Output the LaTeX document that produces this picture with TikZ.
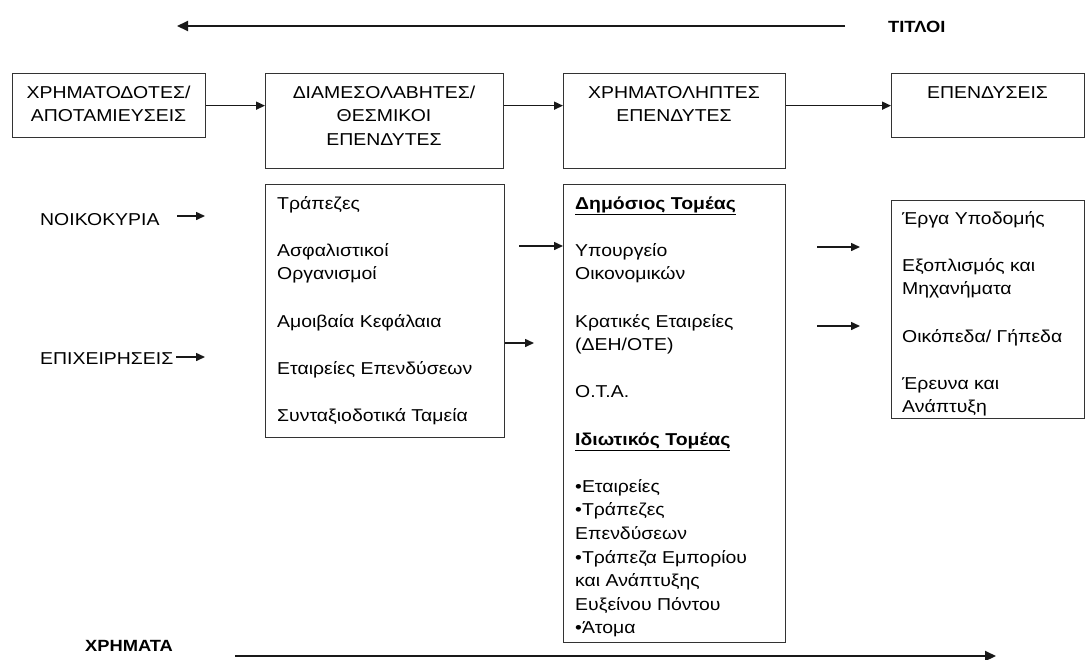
\documentclass[tikz,border=0pt]{standalone}
\usepackage{fontspec}
\setmainfont[FakeStretch=1.13]{Liberation Sans}
\usetikzlibrary{arrows.meta}
\begin{document}
\begin{tikzpicture}[x=1pt,y=-1pt,
  box/.style={draw=black!80,line width=1.3pt,inner sep=0pt,anchor=north west},
  txt/.style={inner sep=0pt,text=black,font=\fontsize{17.2}{23.6}\selectfont},
  ttl/.style={inner sep=0pt,text=black,font=\fontsize{16.2}{23.6}\selectfont\bfseries},
  big/.style={-{Triangle[length=11pt,width=10pt]},line width=2pt,draw=black!90},
  arr/.style={-{Triangle[length=9pt,width=8pt]},line width=1.5pt,draw=black!90}]
\useasboundingbox (0,0) rectangle (1086,659);

% header boxes
\node[box,minimum width=193pt,minimum height=64pt] (b1) at (12,73) {};
\node[box,minimum width=238pt,minimum height=95pt] (b2) at (265,73) {};
\node[box,minimum width=222pt,minimum height=95pt] (b3) at (563,73) {};
\node[box,minimum width=193pt,minimum height=64pt] (b4) at (891,73) {};

\node[txt,anchor=base] (b1t) at (108.5,98) {\begin{tabular}[t]{@{}c@{}}ΧΡΗΜΑΤΟΔΟΤΕΣ/\\ΑΠΟΤΑΜΙΕΥΣΕΙΣ\end{tabular}};
\node[txt,anchor=base] (b2t) at (384,98) {\begin{tabular}[t]{@{}c@{}}ΔΙΑΜΕΣΟΛΑΒΗΤΕΣ/\\ΘΕΣΜΙΚΟΙ\\ΕΠΕΝΔΥΤΕΣ\end{tabular}};
\node[txt,anchor=base] (b3t) at (674,98) {\begin{tabular}[t]{@{}c@{}}ΧΡΗΜΑΤΟΛΗΠΤΕΣ\\ΕΠΕΝΔΥΤΕΣ\end{tabular}};
\node[txt,anchor=base] (b4t) at (987.5,98) {ΕΠΕΝΔΥΣΕΙΣ};

\draw[arr] (b1.east) -- (b1.east -| b2.west);
\draw[arr] (b2.east |- b1.east) -- (b3.west |- b1.east);
\draw[arr] (b3.east |- b4.west) -- (b4.west);

% lower boxes
\node[box,minimum width=239pt,minimum height=253pt] (l2) at (265,184) {};
\node[box,minimum width=222pt,minimum height=458pt] (l3) at (563,184) {};
\node[box,minimum width=193pt,minimum height=218pt] (l4) at (891,200) {};

\node[txt,anchor=base west] (l2t) at (277,209) {\begin{tabular}[t]{@{}l@{}}Τράπεζες\\ \\Ασφαλιστικοί\\Οργανισμοί\\ \\Αμοιβαία Κεφάλαια\\ \\Εταιρείες Επενδύσεων\\ \\Συνταξιοδοτικά Ταμεία\end{tabular}};
\node[txt,anchor=base west] (l3t) at (575,209) {\begin{tabular}[t]{@{}l@{}}\textbf{\underline{Δημόσιος Τομέας}}\\ \\Υπουργείο\\Οικονομικών\\ \\Κρατικές Εταιρείες\\(ΔΕΗ/ΟΤΕ)\\ \\Ο.Τ.Α.\\ \\\textbf{\underline{Ιδιωτικός Τομέας}}\\ \\•Εταιρείες\\•Τράπεζες\\Επενδύσεων\\•Τράπεζα Εμπορίου\\και Ανάπτυξης\\Ευξείνου Πόντου\\•Άτομα\end{tabular}};
\node[txt,anchor=base west] (l4t) at (902,224) {\begin{tabular}[t]{@{}l@{}}Έργα Υποδομής\\ \\Εξοπλισμός και\\Μηχανήματα\\ \\Οικόπεδα/ Γήπεδα\\ \\Έρευνα και\\Ανάπτυξη\end{tabular}};

% left sources
\node[txt,anchor=base west] (hh) at (40,225) {ΝΟΙΚΟΚΥΡΙΑ};
\node[txt,anchor=base west] (fi) at (40,364) {ΕΠΙΧΕΙΡΗΣΕΙΣ};
\coordinate (hh1) at (177,216);
\coordinate (hh2) at (205,216);
\coordinate (fi1) at (176,357);
\coordinate (fi2) at (205,357);
\draw[arr] (hh1) -- (hh2);
\draw[arr] (fi1) -- (fi2);

% middle arrows
\coordinate (m1) at (519,246);
\draw[arr] (m1) -- (m1 -| l3.west);
\coordinate (m2) at (534,343);
\draw[arr] (l2.east |- m2) -- (m2);

% right arrows
\coordinate (r1a) at (817,247);
\coordinate (r1b) at (860,247);
\coordinate (r2a) at (817,326);
\coordinate (r2b) at (860,326);
\draw[arr] (r1a) -- (r1b);
\draw[arr] (r2a) -- (r2b);

% titles and flow arrows
\node[ttl,anchor=base west] (tit) at (888,32) {ΤΙΤΛΟΙ};
\node[ttl,anchor=base west] (money) at (85,651) {ΧΡΗΜΑΤΑ};
\coordinate (ta) at (845,26);
\coordinate (tb) at (177,26);
\draw[big] (ta) -- (tb);
\coordinate (ma) at (235,656);
\coordinate (mb) at (996,656);
\draw[big] (ma) -- (mb);
\end{tikzpicture}
\end{document}
